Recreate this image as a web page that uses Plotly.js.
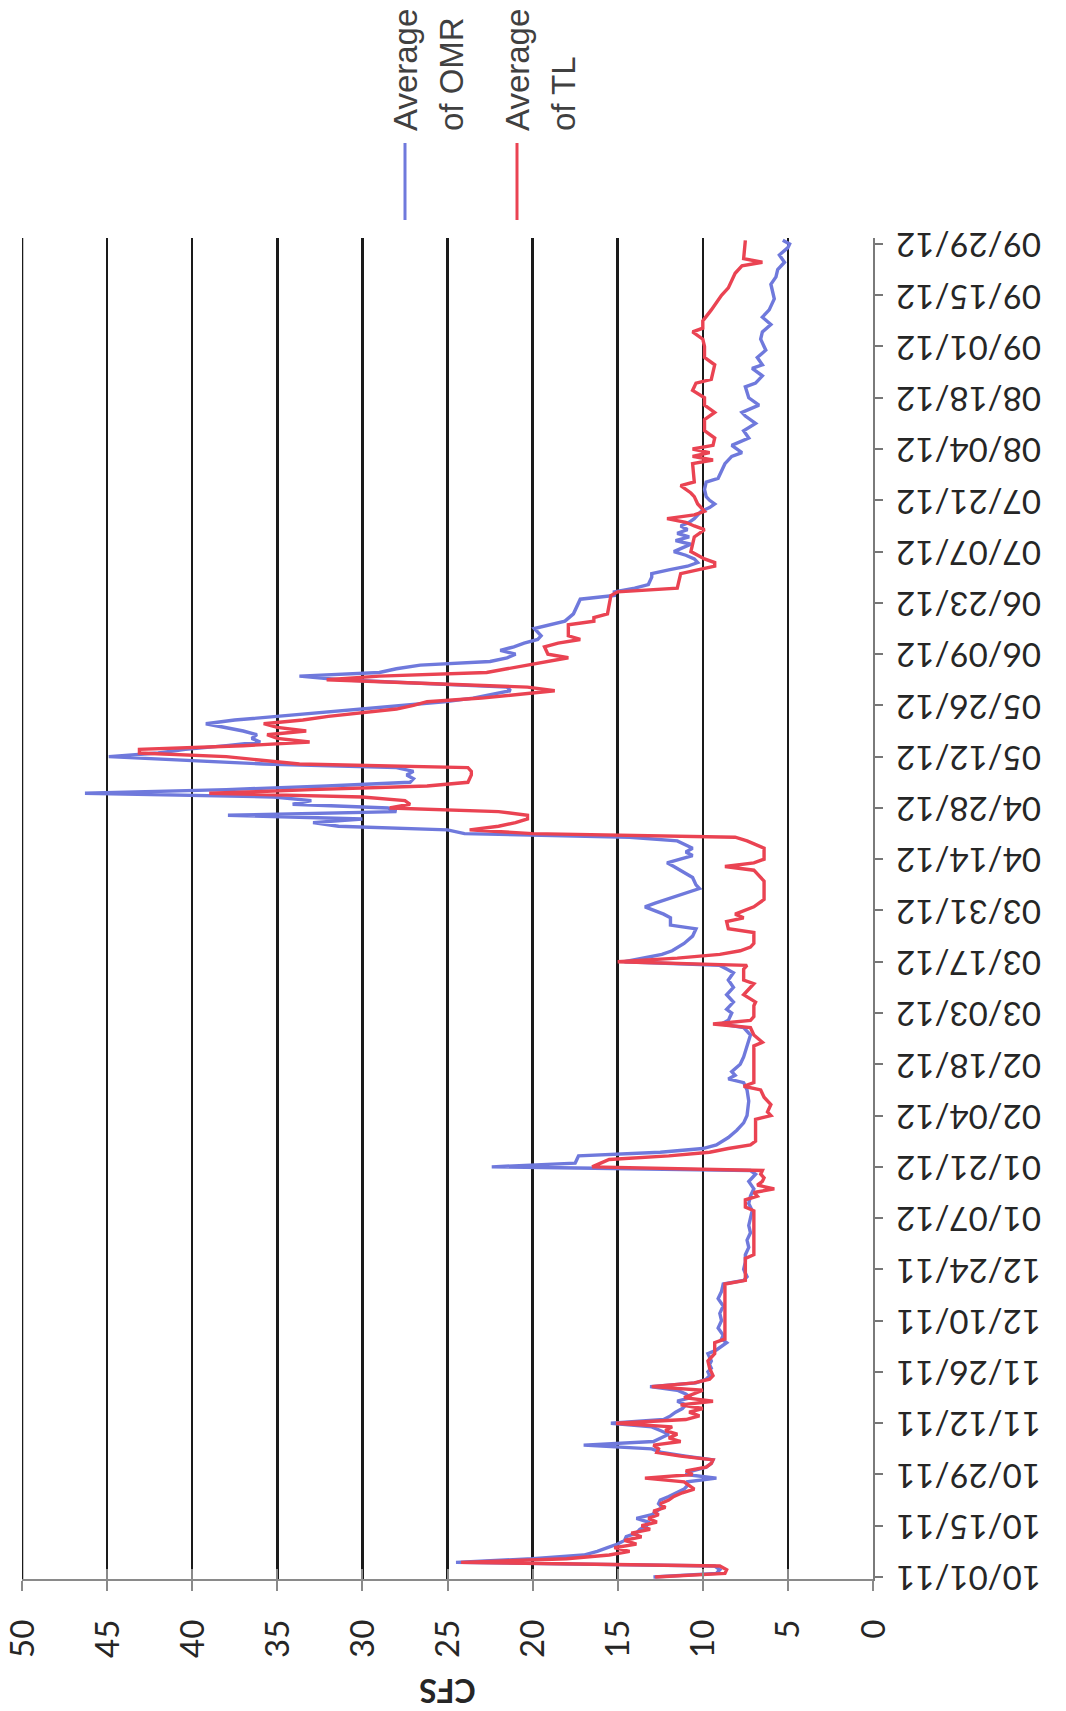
<!DOCTYPE html>
<html>
<head>
<meta charset="utf-8">
<script src="https://cdn.plot.ly/plotly-3.0.1.min.js"></script>
<style>
  html, body { margin: 0; padding: 0; background: #ffffff; overflow: hidden; width: 1066px; height: 1711px; }
  #wrap { position: absolute; left: 0; top: 0; width: 1711px; height: 1066px;
          transform-origin: 0 0; transform: translate(0px, 1711px) rotate(-90deg); }
</style>
</head>
<body>
<div id="wrap"><div id="chart"></div></div>
<script>
// ---- Data (CFS by date) ----
const omrDates = [
'2011-10-01','2011-10-02','2011-10-03','2011-10-04','2011-10-05','2011-10-06','2011-10-07','2011-10-08','2011-10-09','2011-10-10',
'2011-10-11','2011-10-12','2011-10-13','2011-10-14','2011-10-15','2011-10-16','2011-10-17','2011-10-18','2011-10-19','2011-10-20',
'2011-10-21','2011-10-22','2011-10-23','2011-10-24','2011-10-25','2011-10-26','2011-10-27','2011-10-28','2011-10-29','2011-10-30',
'2011-10-31','2011-11-01','2011-11-02','2011-11-03','2011-11-04','2011-11-05','2011-11-06','2011-11-07','2011-11-08','2011-11-09',
'2011-11-10','2011-11-11','2011-11-12','2011-11-13','2011-11-14','2011-11-15','2011-11-16','2011-11-17','2011-11-18','2011-11-19',
'2011-11-20','2011-11-21','2011-11-22','2011-11-23','2011-11-24','2011-11-25','2011-11-26','2011-11-27','2011-11-28','2011-11-29',
'2011-11-30','2011-12-01','2011-12-02','2011-12-03','2011-12-04','2011-12-05','2011-12-06','2011-12-08','2011-12-10','2011-12-12',
'2011-12-14','2011-12-16','2011-12-18','2011-12-20','2011-12-21','2011-12-22','2011-12-24','2011-12-26','2011-12-28','2011-12-30',
'2012-01-01','2012-01-03','2012-01-05','2012-01-07','2012-01-09','2012-01-11','2012-01-13','2012-01-15','2012-01-17','2012-01-19',
'2012-01-20','2012-01-21','2012-01-22','2012-01-23','2012-01-24','2012-01-25','2012-01-26','2012-01-27','2012-01-28','2012-01-29',
'2012-01-31','2012-02-02','2012-02-04','2012-02-08','2012-02-11','2012-02-13','2012-02-14','2012-02-15','2012-02-16','2012-02-18',
'2012-02-20','2012-02-23','2012-02-26','2012-02-28','2012-02-29','2012-03-01','2012-03-03','2012-03-04','2012-03-06','2012-03-08',
'2012-03-10','2012-03-12','2012-03-14','2012-03-15','2012-03-16','2012-03-17','2012-03-18','2012-03-19','2012-03-20','2012-03-21',
'2012-03-22','2012-03-24','2012-03-26','2012-03-27','2012-03-29','2012-03-30','2012-04-01','2012-04-02','2012-04-04','2012-04-06',
'2012-04-07','2012-04-09','2012-04-12','2012-04-13','2012-04-15','2012-04-16','2012-04-17','2012-04-19','2012-04-20','2012-04-21',
'2012-04-22','2012-04-23','2012-04-24','2012-04-25','2012-04-26','2012-04-27','2012-04-28','2012-04-29','2012-04-30','2012-05-01',
'2012-05-02','2012-05-03','2012-05-04','2012-05-05','2012-05-06','2012-05-07','2012-05-08','2012-05-09','2012-05-10','2012-05-11',
'2012-05-12','2012-05-13','2012-05-14','2012-05-15','2012-05-16','2012-05-17','2012-05-18','2012-05-19','2012-05-20','2012-05-21',
'2012-05-22','2012-05-23','2012-05-24','2012-05-25','2012-05-26','2012-05-27','2012-05-28','2012-05-29','2012-05-30','2012-05-31',
'2012-06-01','2012-06-02','2012-06-03','2012-06-04','2012-06-05','2012-06-06','2012-06-07','2012-06-08','2012-06-09','2012-06-10',
'2012-06-11','2012-06-12','2012-06-13','2012-06-14','2012-06-16','2012-06-17','2012-06-18','2012-06-20','2012-06-22','2012-06-24',
'2012-06-25','2012-06-26','2012-06-27','2012-06-28','2012-06-30','2012-07-01','2012-07-02','2012-07-03','2012-07-04','2012-07-05',
'2012-07-06','2012-07-07','2012-07-08','2012-07-09','2012-07-10','2012-07-11','2012-07-12','2012-07-13','2012-07-14','2012-07-15',
'2012-07-16','2012-07-17','2012-07-18','2012-07-19','2012-07-20','2012-07-21','2012-07-22','2012-07-24','2012-07-26','2012-07-27',
'2012-07-29','2012-07-31','2012-08-02','2012-08-03','2012-08-05','2012-08-07','2012-08-09','2012-08-11','2012-08-13','2012-08-14',
'2012-08-16','2012-08-18','2012-08-21','2012-08-22','2012-08-24','2012-08-26','2012-08-27','2012-08-29','2012-08-31','2012-09-03',
'2012-09-05','2012-09-07','2012-09-09','2012-09-11','2012-09-14','2012-09-16','2012-09-18','2012-09-20','2012-09-22','2012-09-24',
'2012-09-26','2012-09-28','2012-09-29','2012-09-30'
];
const omrCfs = [
12.9,9.2,9.0,9.3,24.5,20.0,17.0,16.2,15.6,15.0,
14.6,14.5,13.9,13.7,13.3,13.2,13.9,13.0,12.7,12.4,
12.6,12.5,12.0,11.6,11.1,10.9,10.9,9.2,11.0,10.6,
9.8,9.5,9.4,11.0,12.4,13.0,17.0,12.9,12.4,12.0,
12.5,13.0,15.4,12.3,11.9,11.6,11.2,11.0,11.5,10.7,
11.0,11.5,13.1,10.4,9.8,9.6,9.7,9.5,9.6,9.5,
9.6,9.7,9.2,8.9,8.6,8.9,8.8,9.1,8.9,9.0,
8.8,9.1,8.9,8.8,7.6,7.4,7.6,7.5,7.5,7.3,
7.4,7.2,7.3,7.2,7.1,7.3,7.2,7.0,7.3,6.9,
7.2,22.4,17.5,17.4,17.3,12.5,10.0,9.2,8.8,8.5,
8.0,7.6,7.4,7.3,7.4,7.6,8.5,8.1,8.3,7.8,
7.6,7.4,7.2,7.6,8.9,8.5,8.3,8.6,8.2,8.6,
8.2,8.5,8.2,8.6,9.0,14.6,13.5,12.4,11.8,11.4,
11.1,10.6,10.4,11.9,11.9,12.3,13.4,12.8,11.5,10.2,
10.4,10.6,11.7,12.1,10.6,11.0,10.6,11.5,14.3,24.0,
25.0,31.4,32.9,30.0,37.9,28.0,28.5,34.1,33.0,35.2,
46.3,38.0,32.1,27.2,27.0,27.4,27.0,28.0,35.8,40.0,
44.9,42.0,40.4,38.0,36.0,36.5,36.2,37.0,38.0,39.2,
37.5,35.0,32.9,30.1,28.0,25.2,23.5,22.3,21.3,21.5,
26.0,31.3,33.7,29.0,28.0,26.6,22.5,21.5,21.0,21.9,
21.1,20.5,19.7,19.5,19.9,19.0,18.1,17.6,17.4,17.2,
15.2,15.2,14.0,13.2,13.0,13.0,12.0,10.9,10.3,10.5,
11.0,11.7,11.2,10.7,11.6,10.8,11.5,10.9,11.3,10.8,
10.5,10.3,10.1,9.6,9.3,9.6,9.8,9.9,9.8,9.1,
8.9,8.7,8.3,7.7,8.3,7.3,7.6,6.9,7.5,7.7,
6.7,7.3,7.5,6.9,6.5,7.1,6.5,6.8,6.3,6.6,
6.5,6.0,6.5,6.1,5.8,5.9,6.0,5.7,5.6,5.2,
5.5,5.0,4.9,5.3
];

const tlDates = [
'2011-10-01','2011-10-02','2011-10-03','2011-10-04','2011-10-05','2011-10-06','2011-10-07','2011-10-08','2011-10-09','2011-10-10',
'2011-10-11','2011-10-12','2011-10-13','2011-10-14','2011-10-15','2011-10-16','2011-10-17','2011-10-18','2011-10-19','2011-10-20',
'2011-10-21','2011-10-22','2011-10-23','2011-10-24','2011-10-25','2011-10-26','2011-10-27','2011-10-28','2011-10-29','2011-10-30',
'2011-10-31','2011-11-01','2011-11-02','2011-11-03','2011-11-04','2011-11-05','2011-11-06','2011-11-07','2011-11-08','2011-11-09',
'2011-11-10','2011-11-11','2011-11-12','2011-11-13','2011-11-14','2011-11-15','2011-11-16','2011-11-17','2011-11-18','2011-11-19',
'2011-11-20','2011-11-21','2011-11-22','2011-11-23','2011-11-24','2011-11-25','2011-11-27','2011-11-29','2011-11-30','2011-12-01',
'2011-12-04','2011-12-05','2011-12-20','2011-12-21','2011-12-27','2011-12-28','2012-01-09','2012-01-10','2012-01-12','2012-01-13',
'2012-01-14','2012-01-15','2012-01-16','2012-01-17','2012-01-18','2012-01-19','2012-01-20','2012-01-21','2012-01-22','2012-01-23',
'2012-01-24','2012-01-25','2012-01-26','2012-01-27','2012-01-28','2012-02-03','2012-02-04','2012-02-05','2012-02-07','2012-02-09',
'2012-02-11','2012-02-12','2012-02-13','2012-02-23','2012-02-24','2012-02-26','2012-02-28','2012-02-29','2012-03-01','2012-03-02',
'2012-03-05','2012-03-06','2012-03-08','2012-03-11','2012-03-12','2012-03-15','2012-03-16','2012-03-17','2012-03-18','2012-03-19',
'2012-03-20','2012-03-21','2012-03-22','2012-03-25','2012-03-26','2012-03-28','2012-03-29','2012-03-30','2012-04-01','2012-04-03',
'2012-04-08','2012-04-11','2012-04-12','2012-04-13','2012-04-14','2012-04-17','2012-04-19','2012-04-20','2012-04-21','2012-04-22',
'2012-04-23','2012-04-24','2012-04-25','2012-04-26','2012-04-27','2012-04-28','2012-04-29','2012-04-30','2012-05-01','2012-05-02',
'2012-05-03','2012-05-04','2012-05-05','2012-05-06','2012-05-07','2012-05-08','2012-05-09','2012-05-10','2012-05-11','2012-05-12',
'2012-05-13','2012-05-14','2012-05-15','2012-05-16','2012-05-17','2012-05-18','2012-05-19','2012-05-20','2012-05-21','2012-05-22',
'2012-05-23','2012-05-24','2012-05-25','2012-05-26','2012-05-27','2012-05-28','2012-05-29','2012-05-30','2012-05-31','2012-06-01',
'2012-06-02','2012-06-03','2012-06-04','2012-06-05','2012-06-06','2012-06-07','2012-06-08','2012-06-09','2012-06-11','2012-06-12',
'2012-06-13','2012-06-14','2012-06-17','2012-06-18','2012-06-19','2012-06-20','2012-06-23','2012-06-25','2012-06-26','2012-06-27',
'2012-06-29','2012-07-01','2012-07-02','2012-07-03','2012-07-04','2012-07-05','2012-07-07','2012-07-09','2012-07-11','2012-07-12',
'2012-07-13','2012-07-14','2012-07-15','2012-07-16','2012-07-17','2012-07-18','2012-07-20','2012-07-22','2012-07-23','2012-07-25',
'2012-07-26','2012-07-31','2012-08-01','2012-08-02','2012-08-03','2012-08-04','2012-08-05','2012-08-07','2012-08-09','2012-08-12',
'2012-08-14','2012-08-16','2012-08-18','2012-08-20','2012-08-22','2012-08-23','2012-08-27','2012-08-29','2012-09-01','2012-09-03',
'2012-09-05','2012-09-06','2012-09-08','2012-09-11','2012-09-13','2012-09-15','2012-09-17','2012-09-19','2012-09-21','2012-09-23',
'2012-09-24','2012-09-25','2012-09-30'
];
const tlCfs = [
12.8,8.7,8.6,9.0,24.2,18.0,15.5,14.3,15.2,13.9,
14.6,13.6,14.2,13.1,13.6,12.7,13.2,12.6,12.9,12.2,
12.5,12.0,11.7,11.2,10.5,10.8,11.1,13.4,10.6,11.0,
9.8,9.5,9.4,11.3,12.7,12.6,12.9,11.3,12.0,11.5,
12.2,11.8,15.1,11.0,10.2,10.8,10.0,11.3,9.4,11.1,
10.5,10.0,13.0,10.5,9.6,9.4,9.6,9.7,9.5,9.3,
9.3,8.7,8.7,7.5,7.5,7.0,7.0,7.5,7.5,6.8,
7.0,5.8,6.8,6.5,6.4,6.6,6.5,16.5,16.0,15.5,
12.0,9.6,8.5,7.2,6.9,6.9,6.0,6.2,6.0,6.4,
6.6,7.6,7.0,7.0,6.5,7.0,7.2,9.4,7.2,7.0,
7.0,6.9,7.6,7.0,7.6,7.6,7.4,15.0,11.5,9.0,
7.8,7.2,7.0,7.0,8.5,8.6,7.6,8.1,7.0,6.4,
6.4,7.0,8.7,7.0,6.4,6.4,7.4,8.1,20.0,23.7,
22.0,21.0,20.3,20.3,22.0,28.4,27.2,27.5,30.0,39.0,
33.0,26.2,23.8,23.7,23.6,23.6,23.8,33.7,36.0,38.0,
43.1,43.1,37.0,33.1,35.0,35.6,33.3,35.0,35.8,33.5,
32.0,30.1,28.0,27.0,26.2,23.0,20.7,18.7,20.3,26.0,
32.1,29.0,22.7,21.5,20.3,19.0,17.9,19.1,19.3,18.5,
17.2,17.9,17.9,16.4,16.4,15.6,15.5,15.4,15.0,11.5,
11.4,11.3,10.3,9.3,9.3,9.9,10.7,10.6,10.5,10.2,
9.9,10.5,11.0,12.1,10.5,9.9,10.3,10.5,10.7,11.3,
10.5,10.6,9.4,10.6,9.6,10.6,9.4,9.3,9.9,9.9,
9.3,9.9,9.9,10.6,10.4,9.5,9.3,9.9,9.9,10.0,
10.6,10.0,10.0,9.5,9.2,8.9,8.5,8.3,8.1,7.7,
6.5,7.6,7.5
];

const seriesNames = ['Average of OMR', 'Average of TL'];
const legendLines = [['Average', 'of OMR'], ['Average', 'of TL']];
const seriesColors = ['#6f79dc', '#ea4352'];
const cfsTicks = [0, 5, 10, 15, 20, 25, 30, 35, 40, 45, 50];
const axisTitle = 'CFS';

// ---- Chart (drawn in the original landscape orientation, page turned by CSS) ----
const W = 1711, H = 1066;
const M = { l: 132, r: 238, t: 22, b: 193 };
const pw = W - M.l - M.r, ph = H - M.t - M.b;
const px = v => (v - M.l) / pw;          // pixel -> paper x
const py = v => (H - M.b - v) / ph;      // pixel -> paper y

const traces = [
  { type: 'scatter', mode: 'lines', name: seriesNames[0], x: omrDates, y: omrCfs,
    line: { color: seriesColors[0], width: 3.4 }, showlegend: false },
  { type: 'scatter', mode: 'lines', name: seriesNames[1], x: tlDates, y: tlCfs,
    line: { color: seriesColors[1], width: 3.4 }, showlegend: false }
];

const tickFont = { family: 'Lato, "Open Sans", sans-serif', size: 33, color: '#262626' };
const legFont = { family: '"Liberation Sans", Arial, sans-serif', size: 33, color: '#404040' };

const legendRows = [405, 517];
const shapes = [
  // top gridline at the 50 CFS limit of the value axis
  { type: 'line', xref: 'paper', yref: 'y', x0: 0, x1: 1, y0: cfsTicks[cfsTicks.length - 1], y1: cfsTicks[cfsTicks.length - 1],
    line: { color: '#1a1a1a', width: 2.5 }, layer: 'below' }
];
const annotations = [];
legendRows.forEach((yy, i) => {
  shapes.push({ type: 'line', xref: 'paper', yref: 'paper', x0: px(1491), x1: px(1568),
                y0: py(yy), y1: py(yy), line: { color: seriesColors[i], width: 3 } });
  annotations.push({ xref: 'paper', yref: 'paper', x: px(1578), y: py(yy), xanchor: 'left', yanchor: 'middle',
                     text: legendLines[i][0], showarrow: false, font: legFont });
  annotations.push({ xref: 'paper', yref: 'paper', x: px(1578), y: py(yy + 46), xanchor: 'left', yanchor: 'middle',
                     text: legendLines[i][1], showarrow: false, font: legFont });
});

const layout = {
  width: W, height: H, margin: M,
  paper_bgcolor: '#ffffff', plot_bgcolor: '#ffffff',
  showlegend: false,
  xaxis: {
    type: 'date', range: ['2011-09-30 11:00', '2012-09-30 15:00'],
    tick0: '2011-10-01', dtick: 14 * 86400000, tickformat: '%m/%d/%y',
    tickangle: -90, ticks: 'outside', ticklen: 8, tickwidth: 2, tickcolor: '#777',
    ticklabelstandoff: 0,
    showline: true, linecolor: '#7a7a7a', linewidth: 2, showgrid: false, zeroline: false,
    tickfont: tickFont
  },
  yaxis: {
    range: [0, 50], tickvals: cfsTicks, ticks: 'outside', ticklen: 10, tickwidth: 2, tickcolor: '#8a8a8a',
    ticklabelstandoff: 22,
    showline: true, linecolor: '#8a8a8a', linewidth: 2,
    showgrid: true, gridcolor: '#1a1a1a', gridwidth: 2.5, zeroline: false,
    tickfont: tickFont,
    title: { text: axisTitle, standoff: 20, font: { family: 'Lato, "Open Sans", sans-serif', size: 32, color: '#262626', weight: 'bold' } }
  },
  yaxis2: {
    range: [0, 50], tickvals: cfsTicks, overlaying: 'y', side: 'left', ticks: 'inside', ticklen: 10, tickwidth: 2,
    tickcolor: '#8a8a8a', showticklabels: false, showgrid: false, zeroline: false, showline: false
  },
  shapes: shapes,
  annotations: annotations
};

// invisible trace to activate yaxis2 (tick marks crossing the value axis)
traces.push({ type: 'scatter', x: [omrDates[0]], y: [omrCfs[0]], yaxis: 'y2', mode: 'markers',
              marker: { opacity: 0 }, hoverinfo: 'skip', showlegend: false });

Plotly.newPlot('chart', traces, layout, { displayModeBar: false, staticPlot: true });
</script>
</body>
</html>
